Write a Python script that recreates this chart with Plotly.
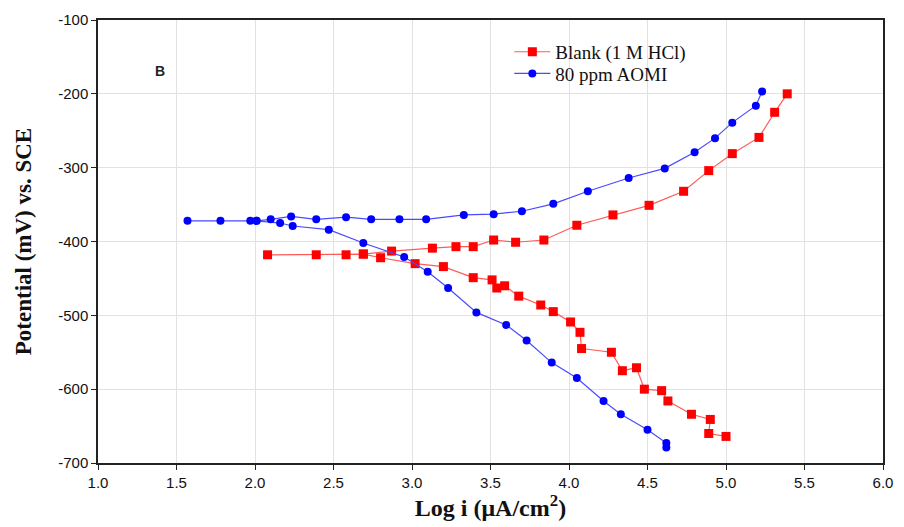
import plotly.graph_objects as go

# Blank (1 M HCl): flat left part + cathodic branch
blank_cath_x = [2.08, 2.39, 2.58, 2.69, 2.80, 3.02, 3.20, 3.39, 3.51, 3.54, 3.59, 3.68, 3.82, 3.90,
                4.01, 4.07, 4.08, 4.27, 4.34, 4.43, 4.48, 4.59, 4.63, 4.78, 4.90, 4.89, 5.00]
blank_cath_y = [-418, -418, -418, -417, -422, -430, -434, -449, -452, -463, -460, -474, -486, -495,
                -509, -523, -545, -550, -575, -571, -600, -602, -616, -634, -641, -660, -664]
# Blank anodic branch
blank_an_x = [2.69, 2.87, 3.13, 3.28, 3.39, 3.52, 3.66, 3.84, 4.05, 4.28, 4.51, 4.73, 4.89, 5.04,
              5.21, 5.31, 5.39]
blank_an_y = [-417, -413, -409, -407, -407, -398, -401, -398, -378, -364, -351, -332, -304, -281,
              -259, -225, -200]

# 80 ppm AOMI: flat left part + cathodic branch
aomi_cath_x = [1.57, 1.78, 1.97, 2.01, 2.16, 2.24, 2.47, 2.69, 2.95, 3.10, 3.23, 3.41, 3.60, 3.73,
               3.89, 4.05, 4.22, 4.33, 4.50, 4.62, 4.62]
aomi_cath_y = [-372, -372, -372, -372, -375, -379, -384, -402, -421, -441, -463, -496, -513, -534,
               -564, -585, -616, -634, -655, -673, -679]
# AOMI anodic branch
aomi_an_x = [2.01, 2.10, 2.23, 2.39, 2.58, 2.74, 2.92, 3.09, 3.33, 3.52, 3.70, 3.90, 4.12, 4.38,
             4.61, 4.80, 4.93, 5.04, 5.19, 5.23]
aomi_an_y = [-372, -370, -366, -370, -367, -370, -370, -370, -364, -363, -359, -349, -332, -314,
             -301, -279, -260, -239, -216, -197]

x_ticks = [1.0, 1.5, 2.0, 2.5, 3.0, 3.5, 4.0, 4.5, 5.0, 5.5, 6.0]
y_ticks = [-100, -200, -300, -400, -500, -600, -700]

RED_M, RED_L = "#FF0000", "#FF5A5A"
BLUE_M, BLUE_L = "#0000FF", "#4A4AFF"
SERIF = "Liberation Serif, Times New Roman, serif"

fig = go.Figure()
fig.add_trace(go.Scatter(x=blank_cath_x, y=blank_cath_y, mode="lines+markers", name="Blank (1 M HCl)",
                         legend="legend", line=dict(color=RED_L, width=1.2),
                         marker=dict(symbol="square", size=9, color=RED_M)))
fig.add_trace(go.Scatter(x=blank_an_x, y=blank_an_y, mode="lines+markers", name="Blank (1 M HCl)",
                         showlegend=False, line=dict(color=RED_L, width=1.2),
                         marker=dict(symbol="square", size=9, color=RED_M)))
fig.add_trace(go.Scatter(x=aomi_cath_x, y=aomi_cath_y, mode="lines+markers", name="80 ppm AOMI",
                         legend="legend2", line=dict(color=BLUE_L, width=1.2),
                         marker=dict(symbol="circle", size=8, color=BLUE_M)))
fig.add_trace(go.Scatter(x=aomi_an_x, y=aomi_an_y, mode="lines+markers", name="80 ppm AOMI",
                         showlegend=False, line=dict(color=BLUE_L, width=1.2),
                         marker=dict(symbol="circle", size=8, color=BLUE_M)))

axis_common = dict(showgrid=True, gridcolor="#E2E2E2", gridwidth=1, zeroline=False,
                   showline=True, linecolor="#222222", linewidth=1.5, mirror=True,
                   ticks="outside", ticklen=5, tickcolor="#222222",
                   tickfont=dict(family="Liberation Sans, Arial", size=15, color="#111111"))

leg_common = dict(xanchor="left", yanchor="middle", bgcolor="rgba(0,0,0,0)",
                  font=dict(family=SERIF, size=19, color="#111111"), itemwidth=36,
                  borderwidth=0)

fig.update_layout(
    autosize=True,
    margin=dict(l=98, r=11, t=17, b=64),
    paper_bgcolor="white", plot_bgcolor="white",
    xaxis=dict(range=[1.0, 6.0], tickvals=x_ticks, ticktext=[f"{v:.1f}" for v in x_ticks],
               title=dict(text="<b>Log i (μA/cm<sup>2</sup>)</b>", standoff=7,
                          font=dict(family=SERIF, size=24, color="#111111")),
               **axis_common),
    yaxis=dict(range=[-700, -100], tickvals=y_ticks, ticktext=[str(v) for v in y_ticks],
               title=dict(text="<b>Potential (mV) vs. SCE</b>", standoff=20,
                          font=dict(family=SERIF, size=23, color="#111111")),
               **axis_common),
    legend=dict(x=0.524, y=0.928, **leg_common),
    legend2=dict(x=0.524, y=0.879, **leg_common),
    showlegend=True,
)
fig.add_annotation(x=0.07, y=0.907, xref="paper", yref="paper", text="<b>B</b>", showarrow=False,
                   font=dict(family="Liberation Sans, Arial", size=14, color="#222222"))

fig.write_html("out.html", config={"responsive": True})
